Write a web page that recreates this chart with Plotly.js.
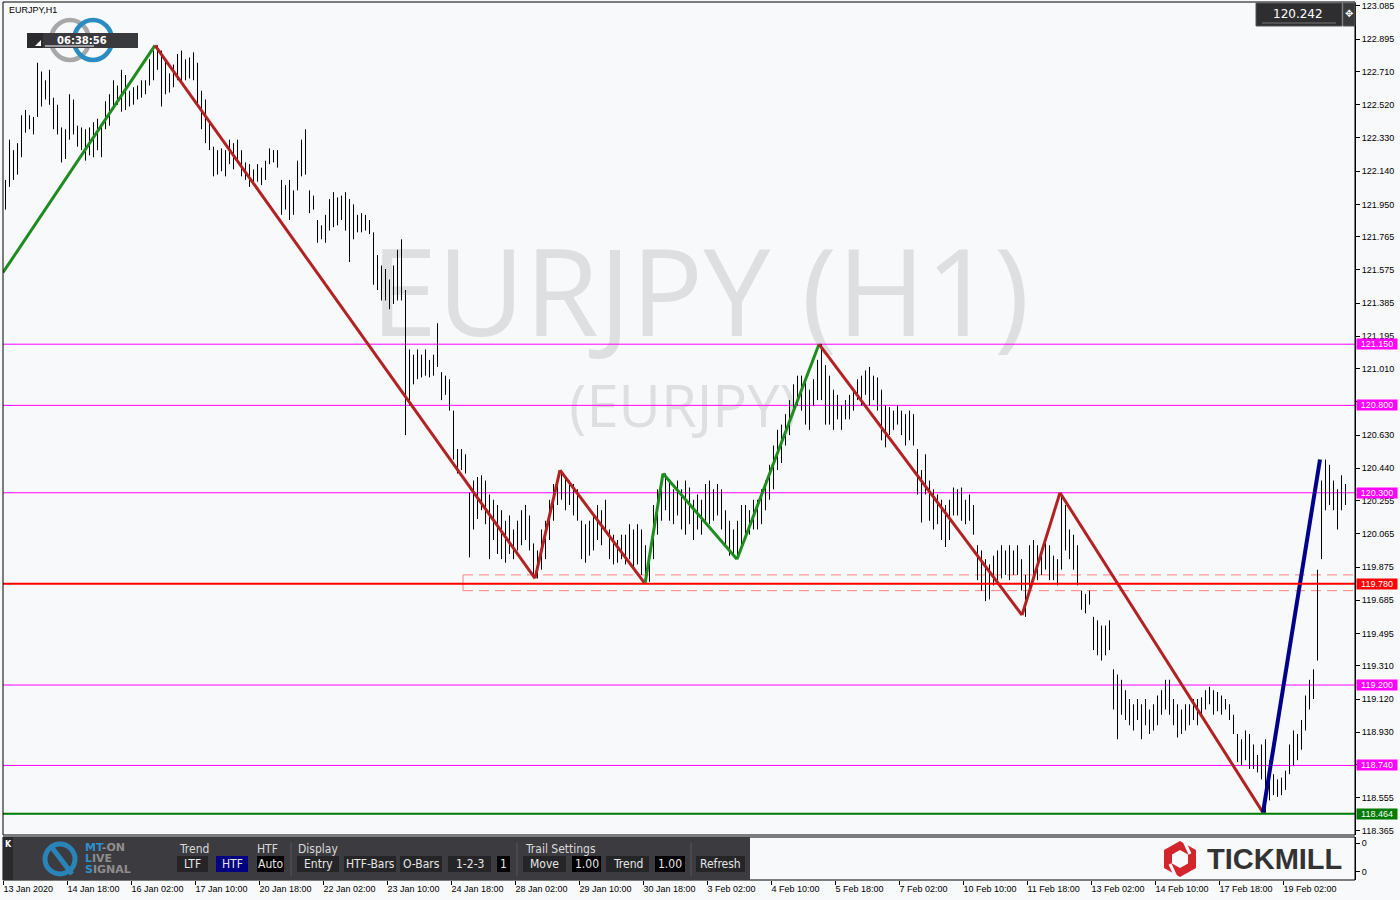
<!DOCTYPE html>
<html><head><meta charset="utf-8">
<script src="https://cdn.plot.ly/plotly-3.0.1.min.js"></script>
<style>html,body{margin:0;padding:0;background:#F8F9FB;}#chart{width:1400px;height:900px;}</style>
</head><body><div id="chart"></div>
<script>
// ---------------- DATA ----------------
const symbolTitle = 'EURJPY,H1';
const watermarkMain = 'EURJPY (H1)';
const watermarkSub = '(EURJPY)';
const timerText = '06:38:56';
const lastPrice = '120.242';
const timeLabels = ['13 Jan 2020','14 Jan 18:00','16 Jan 02:00','17 Jan 10:00','20 Jan 18:00','22 Jan 02:00','23 Jan 10:00','24 Jan 18:00','28 Jan 02:00','29 Jan 10:00','30 Jan 18:00','3 Feb 02:00','4 Feb 10:00','5 Feb 18:00','7 Feb 02:00','10 Feb 10:00','11 Feb 18:00','13 Feb 02:00','14 Feb 10:00','17 Feb 18:00','19 Feb 02:00'];
const hoursPerLabel = 32;
const hoursPerBar = 2;
const priceTicks = [123.085,122.895,122.710,122.520,122.330,122.140,121.950,121.765,121.575,121.385,121.195,121.010,120.820,120.630,120.440,120.255,120.065,119.875,119.685,119.495,119.310,119.120,118.930,118.745,118.555,118.365];
const hiddenTicks = [120.820, 118.745]; // covered by level labels in the reference

const barHigh = [
122.09,122.32,122.26,122.30,122.46,122.49,122.46,122.45,122.76,122.71,
122.66,122.72,122.56,122.52,122.39,122.38,122.58,122.55,122.40,122.39,
122.38,122.39,122.42,122.44,122.40,122.54,122.58,122.66,122.63,122.72,
122.69,122.60,122.62,122.63,122.66,122.66,122.78,122.83,122.86,122.83,
122.78,122.70,122.75,122.81,122.83,122.78,122.79,122.82,122.76,122.60,
122.55,122.43,122.28,122.26,122.27,122.26,122.32,122.30,122.32,122.26,
122.19,122.18,122.15,122.18,122.16,122.20,122.27,122.26,122.26,122.09,
122.06,122.09,122.03,122.20,122.32,122.38,122.03,122.00,121.86,121.83,
121.89,121.98,122.02,121.99,122.00,122.02,121.98,121.95,121.89,121.90,
121.89,121.86,121.79,121.66,121.60,121.58,121.52,121.60,121.69,121.75,
121.46,121.12,121.09,121.12,121.09,121.12,121.06,121.09,121.27,120.99,
120.97,120.95,120.77,120.55,120.55,120.52,120.30,120.37,120.39,120.40,
120.37,120.29,120.26,120.23,120.20,120.14,120.17,120.09,120.14,120.20,
120.23,120.17,120.01,119.97,120.09,120.14,120.26,120.35,120.37,120.43,
120.39,120.37,120.35,120.32,120.14,120.12,120.14,120.17,120.23,120.20,
120.26,120.09,120.06,120.03,120.06,120.06,120.12,120.09,120.12,120.09,
120.00,119.97,120.23,120.32,120.37,120.41,120.37,120.32,120.37,120.32,
120.37,120.33,120.26,120.29,120.26,120.35,120.37,120.32,120.35,120.32,
120.20,120.14,120.09,120.14,120.23,120.23,120.20,120.26,120.26,120.32,
120.37,120.46,120.57,120.66,120.69,120.75,120.83,120.92,120.97,120.97,
120.95,120.89,120.95,121.06,121.15,121.03,120.97,120.89,120.86,120.80,
120.83,120.86,120.89,120.95,120.97,121.00,121.02,120.97,120.96,120.89,
120.80,120.79,120.77,120.80,120.77,120.75,120.77,120.75,120.55,120.43,
120.52,120.37,120.32,120.29,120.26,120.23,120.26,120.33,120.32,120.33,
120.26,120.29,120.23,120.00,119.97,119.92,119.89,119.94,119.97,120.00,
119.97,120.00,119.97,120.00,119.92,119.83,120.00,120.03,120.00,119.97,
120.03,120.00,119.94,119.92,120.30,120.23,120.09,120.06,120.00,119.74,
119.72,119.74,119.59,119.57,119.54,119.54,119.57,119.29,119.26,119.23,
119.17,119.12,119.09,119.12,119.09,119.12,119.06,119.09,119.14,119.17,
119.23,119.23,119.12,119.09,119.06,119.09,119.09,119.12,119.12,119.13,
119.17,119.19,119.17,119.16,119.14,119.12,119.09,119.03,118.92,118.89,
118.94,118.92,118.86,118.80,118.86,118.89,118.77,118.69,118.66,118.67,
118.71,118.86,118.94,118.92,119.00,119.14,119.23,119.29,119.86,120.37,
120.49,120.46,120.37,120.32,120.40,120.35];

const barLow = [
121.92,122.05,122.09,122.12,122.22,122.36,122.38,122.35,122.45,122.51,
122.55,122.52,122.38,122.35,122.19,122.21,122.32,122.35,122.28,122.26,
122.20,122.23,122.22,122.26,122.22,122.38,122.40,122.49,122.52,122.48,
122.49,122.51,122.52,122.55,122.56,122.58,122.63,122.66,122.72,122.51,
122.58,122.59,122.62,122.66,122.64,122.66,122.67,122.66,122.51,122.38,
122.30,122.26,122.11,122.12,122.14,122.11,122.18,122.15,122.20,122.11,
122.09,122.05,122.06,122.08,122.06,122.09,122.18,122.19,122.16,121.89,
121.92,121.86,121.89,122.03,122.11,122.12,121.90,121.92,121.73,121.75,
121.73,121.80,121.82,121.83,121.86,121.80,121.62,121.75,121.79,121.79,
121.80,121.78,121.49,121.46,121.40,121.40,121.35,121.38,121.40,121.40,
120.63,120.80,120.92,120.95,120.96,120.97,120.96,120.97,121.02,120.83,
120.86,120.77,120.49,120.41,120.43,120.41,119.93,120.09,120.15,120.20,
120.12,119.92,120.03,119.95,119.92,119.90,119.95,119.92,119.97,120.00,
120.03,119.97,119.83,119.81,119.86,119.92,120.03,120.14,120.23,120.26,
120.20,120.23,120.17,120.14,119.92,119.90,119.94,119.97,120.03,120.00,
120.09,119.92,119.89,119.90,119.92,119.89,119.92,119.86,119.89,119.83,
119.78,119.79,119.92,120.06,120.14,120.20,120.14,120.12,120.17,120.09,
120.06,120.12,120.03,120.09,120.06,120.14,120.12,120.14,120.17,120.09,
120.00,119.94,119.94,119.92,120.00,120.03,120.06,120.09,120.09,120.12,
120.20,120.26,120.32,120.43,120.47,120.57,120.63,120.75,120.80,120.77,
120.69,120.66,120.80,120.83,120.83,120.69,120.69,120.66,120.72,120.66,
120.72,120.72,120.77,120.83,120.80,120.86,120.80,120.83,120.77,120.60,
120.56,120.63,120.66,120.69,120.63,120.57,120.60,120.57,120.29,120.13,
120.29,120.14,120.09,120.12,120.03,119.99,120.03,120.17,120.17,120.14,
120.12,120.14,120.06,119.80,119.74,119.68,119.69,119.77,119.80,119.81,
119.83,119.80,119.83,119.83,119.74,119.59,119.74,119.83,119.80,119.83,
119.86,119.80,119.80,119.77,119.86,119.97,119.92,119.86,119.77,119.63,
119.61,119.66,119.40,119.37,119.34,119.37,119.40,119.06,118.89,119.03,
119.00,118.97,118.94,119.00,118.89,118.97,118.92,118.94,118.97,119.03,
119.06,119.03,118.97,118.90,118.92,118.94,118.97,119.00,118.97,119.03,
119.06,119.09,119.03,119.05,119.03,119.06,119.00,118.92,118.76,118.74,
118.77,118.72,118.72,118.70,118.66,118.47,118.54,118.57,118.56,118.57,
118.60,118.69,118.74,118.77,118.83,118.94,119.06,119.12,119.34,119.92,
120.20,120.23,120.20,120.09,120.20,120.23];

// zigzag pivots (hour index, price) and direction of each leg
const zigzagHour  = [0, 76, 266, 278.5, 321, 330, 367, 408, 509.5, 528.5, 630, 658.5];
const zigzagPrice = [121.56, 122.86, 119.81, 120.43, 119.78, 120.41, 119.92, 121.15, 119.60, 120.30, 118.47, 120.49];
const zigzagLeg   = ['up','down','down','down','up','up','up','down','down','down','final'];

const levelPrices = [121.150, 120.800, 120.300, 119.200, 118.740];
const supportPrice = 119.780;
const lowPrice = 118.464;
const zoneTop = 119.83, zoneBottom = 119.74, zoneStartHour = 230;

// ---------------- GEOMETRY / STYLE ----------------
const L = 3, R = 1355, T = 3, B = 880;
const X = px => (px - L) / (R - L);
const Y = py => (B - py) / (B - T);
const xMax = 676;
const barOffset = 1.25;   // centres 1px bar lines on pixel centres
const bg = '#F8F9FB';
const axisFont = {family: 'Liberation Sans, Arial, sans-serif', size: 9, color: '#000'};
const narrow = 'Liberation Sans Narrow, DejaVu Sans Condensed, Arial Narrow, sans-serif';
const legColor = {up: '#1F8C1F', down: '#B22222', final: '#00008B'};

const traces = [];
traces.push({
  type: 'ohlc', xaxis: 'x', yaxis: 'y',
  x: barHigh.map((_, i) => i * hoursPerBar + barOffset),
  open: barLow, high: barHigh, low: barLow, close: barHigh,
  tickwidth: 0,
  increasing: {line: {color: '#000', width: 1}},
  decreasing: {line: {color: '#000', width: 1}},
  hoverinfo: 'skip', showlegend: false
});
for (let s = 0; s < zigzagLeg.length; s++) {
  traces.push({
    type: 'scatter', mode: 'lines', xaxis: 'x', yaxis: 'y',
    x: [zigzagHour[s], zigzagHour[s + 1]],
    y: [zigzagPrice[s], zigzagPrice[s + 1]],
    line: {color: legColor[zigzagLeg[s]], width: zigzagLeg[s] === 'final' ? 4 : 3},
    hoverinfo: 'skip', showlegend: false
  });
}
// empty trace so the indicator sub-window (x / y2) exists
traces.push({type: 'scatter', mode: 'markers', xaxis: 'x', yaxis: 'y2', x: [-10], y: [-10],
  marker: {size: 1, color: 'rgba(0,0,0,0)'}, hoverinfo: 'skip', showlegend: false});

const shapes = [];
const annotations = [];
function rectPx(x0, y0, x1, y1, fill, lineColor, layer) {
  shapes.push({type: 'rect', xref: 'paper', yref: 'paper', x0: X(x0), x1: X(x1), y0: Y(y1), y1: Y(y0),
    fillcolor: fill, line: {width: lineColor ? 1 : 0, color: lineColor || fill}, layer: layer || 'above'});
}
function linePx(x0, y0, x1, y1, color, width) {
  shapes.push({type: 'line', xref: 'paper', yref: 'paper', x0: X(x0), x1: X(x1), y0: Y(y0), y1: Y(y1),
    line: {color: color, width: width}});
}
function textPx(x, y, text, font, xanchor, extra) {
  annotations.push(Object.assign({xref: 'paper', yref: 'paper', x: X(x), y: Y(y), text: text, showarrow: false,
    xanchor: xanchor || 'center', yanchor: 'middle', font: font}, extra || {}));
}
function pathPx(pts) {
  return 'M ' + pts.map(p => X(p[0]) + ' ' + Y(p[1])).join(' L ') + ' Z';
}
function axisLabel(p, color) {
  annotations.push({xref: 'paper', x: 1, xanchor: 'left', xshift: 1, yref: 'y', y: p, yanchor: 'middle',
    text: p.toFixed(3), showarrow: false, bgcolor: color, width: 40, height: 10, borderpad: 0,
    font: {family: axisFont.family, size: 9, color: '#fff'}});
}

// watermark (below bars)
shapes.push({type: 'rect', xref: 'paper', yref: 'paper', x0: X(340), x1: X(1060), y0: Y(362), y1: Y(233),
  line: {width: 0}, fillcolor: 'rgba(0,0,0,0)', layer: 'below',
  label: {text: watermarkMain, textposition: 'middle center', font: {family: 'Open Sans, sans-serif', size: 120, color: '#DEDFE0'}}});
shapes.push({type: 'rect', xref: 'paper', yref: 'paper', x0: X(560), x1: X(806), y0: Y(440), y1: Y(376),
  line: {width: 0}, fillcolor: 'rgba(0,0,0,0)', layer: 'below',
  label: {text: watermarkSub, textposition: 'middle center', font: {family: 'Open Sans, sans-serif', size: 58, color: '#DEDFE0'}}});

// level lines
levelPrices.forEach(p => {
  shapes.push({type: 'line', xref: 'paper', x0: 0, x1: 1, yref: 'y', y0: p, y1: p, line: {color: '#FF00FF', width: 1}, layer: 'below'});
  axisLabel(p, '#FF00FF');
});
// zone
shapes.push({type: 'line', xref: 'x', yref: 'y', x0: zoneStartHour, x1: xMax, y0: zoneTop, y1: zoneTop, line: {color: '#FF8080', width: 1, dash: '10px,6px'}, layer: 'below'});
shapes.push({type: 'line', xref: 'x', yref: 'y', x0: zoneStartHour, x1: xMax, y0: zoneBottom, y1: zoneBottom, line: {color: '#FF8080', width: 1, dash: '10px,6px'}, layer: 'below'});
shapes.push({type: 'line', xref: 'x', yref: 'y', x0: zoneStartHour, x1: zoneStartHour, y0: zoneBottom, y1: zoneTop, line: {color: '#FF8080', width: 1}, layer: 'below'});
// support & low
shapes.push({type: 'line', xref: 'paper', x0: 0, x1: 1, yref: 'y', y0: supportPrice, y1: supportPrice, line: {color: '#FF0000', width: 2}});
axisLabel(supportPrice, '#FF0000');
shapes.push({type: 'line', xref: 'paper', x0: 0, x1: 1, yref: 'y', y0: lowPrice, y1: lowPrice, line: {color: '#007A00', width: 2}});
axisLabel(lowPrice, '#007A00');

// frames
rectPx(L, 2, R, 835, 'rgba(0,0,0,0)', '#000');
rectPx(L, 837, R, B, 'rgba(0,0,0,0)', '#000');

// top-left title and timer widget
textPx(7, 10, symbolTitle, {family: axisFont.family, size: 9, color: '#000'}, 'left');
shapes.push({type: 'circle', xref: 'paper', yref: 'paper', x0: X(51), x1: X(89), y0: Y(60), y1: Y(20), line: {color: '#A8A8A8', width: 4.5}});
shapes.push({type: 'circle', xref: 'paper', yref: 'paper', x0: X(74), x1: X(112), y0: Y(60), y1: Y(20), line: {color: '#2A8CC0', width: 4.5}});
rectPx(27, 33, 138, 48, '#3A393D');
rectPx(27, 33, 43, 48, '#2B2A2D');
shapes.push({type: 'path', xref: 'paper', yref: 'paper', path: pathPx([[35, 46], [41, 46], [41, 40]]), fillcolor: '#fff', line: {width: 0}});
linePx(45, 46, 94, 46, '#ffffff', 1);
textPx(82, 40, '<b>' + timerText + '</b>', {family: 'DejaVu Sans, sans-serif', size: 10, color: '#fff'});

// last price box
rectPx(1256, 3, 1342, 26, '#2E2E31', '#555');
linePx(1262, 23, 1336, 23, '#777', 1);
textPx(1298, 14, lastPrice, {family: 'DejaVu Sans, sans-serif', size: 12, color: '#fff'});
rectPx(1343, 3, 1355, 26, '#3A3A3D', '#555');
textPx(1349, 14, '✥', {family: 'DejaVu Sans, sans-serif', size: 10, color: '#fff'});

// bottom toolbar
rectPx(L, 837, 750, B, '#3C3B40');
rectPx(L, 837, 13, B, '#2A2A2D');
textPx(8, 844, '<b>K</b>', {family: 'DejaVu Sans, sans-serif', size: 8, color: '#fff'});
shapes.push({type: 'circle', xref: 'paper', yref: 'paper', x0: X(45), x1: X(75), y0: Y(874), y1: Y(844), line: {color: '#2A84B8', width: 5}});
linePx(50, 845, 72, 874, '#2A84B8', 5);
textPx(83, 847, '<b><span style="color:#2F8FCC">MT</span>-ON</b>', {family: 'DejaVu Sans, sans-serif', size: 11, color: '#8E8E8E'}, 'left');
textPx(83, 858, '<b><span style="color:#2F8FCC">L</span>IVE</b>', {family: 'DejaVu Sans, sans-serif', size: 11, color: '#8E8E8E'}, 'left');
textPx(83, 869, '<b><span style="color:#2F8FCC">S</span>IGNAL</b>', {family: 'DejaVu Sans, sans-serif', size: 11, color: '#8E8E8E'}, 'left');
const groupLabels = [['Trend', 177], ['HTF', 255], ['Display', 296], ['Trail Settings', 523]];
groupLabels.forEach(g => textPx(g[1], 849, g[0], {family: narrow, size: 12, color: '#DADADA'}, 'left'));
const buttons = [['LTF', 177, 208, '#252528'], ['HTF', 216, 248, '#000080'], ['Auto', 257, 284, '#000'],
  ['Entry', 297, 339, '#252528'], ['HTF-Bars', 344, 396, '#252528'], ['O-Bars', 400, 442, '#252528'],
  ['1-2-3', 448, 491, '#252528'], ['1', 497, 510, '#000'], ['Move', 523, 566, '#252528'], ['1.00', 572, 601, '#000'],
  ['Trend', 606, 649, '#252528'], ['1.00', 655, 685, '#000'], ['Refresh', 696, 745, '#252528']];
buttons.forEach(b => {
  rectPx(b[1], 856, b[2], 872, b[3]);
  textPx((b[1] + b[2]) / 2, 864, b[0], {family: narrow, size: 12, color: '#E6E6E6'});
});
[291, 517, 691].forEach(x => linePx(x, 843, x, 876, '#58575C', 1));

// Tickmill logo
const cx = 1180, cy = 859;
shapes.push({type: 'path', xref: 'paper', yref: 'paper', line: {width: 0}, fillcolor: '#D2262C',
  path: pathPx([[cx, cy - 18], [cx + 16, cy - 9], [cx + 16, cy + 9], [cx, cy + 18], [cx - 16, cy + 9], [cx - 16, cy - 9]])});
shapes.push({type: 'path', xref: 'paper', yref: 'paper', line: {width: 0}, fillcolor: bg,
  path: pathPx([[cx, cy - 9], [cx + 8, cy - 4.5], [cx + 8, cy + 4.5], [cx, cy + 9], [cx - 8, cy + 4.5], [cx - 8, cy - 4.5]])});
linePx(cx + 4, cy - 18, cx + 10, cy - 5, bg, 3);
linePx(cx - 10, cy + 5, cx - 4, cy + 18, bg, 3);
textPx(1205, 859, '<b>TICKMILL</b>', {family: 'Liberation Sans, Arial, sans-serif', size: 29, color: '#333333'}, 'left');

// ---------------- LAYOUT ----------------
const layout = {
  width: 1400, height: 900,
  margin: {l: L, r: 1400 - R, t: T, b: 900 - B, pad: 0},
  paper_bgcolor: bg, plot_bgcolor: bg,
  showlegend: false,
  xaxis: {
    type: 'linear', range: [0, xMax], anchor: 'y2', domain: [0, 1],
    rangeslider: {visible: false},
    tickvals: timeLabels.map((_, k) => k * hoursPerLabel), ticktext: timeLabels,
    ticks: 'outside', ticklen: 4, tickcolor: '#000', tickfont: axisFont,
    ticklabelposition: 'outside right',
    showgrid: false, zeroline: false, showline: false, fixedrange: true
  },
  yaxis: {
    domain: [Y(835), 1], anchor: 'x', side: 'right', range: [118.342, 123.102],
    tickvals: priceTicks, ticktext: priceTicks.map(v => hiddenTicks.includes(v) ? '' : v.toFixed(3)),
    ticks: 'outside', ticklen: 4, tickcolor: '#000', tickfont: axisFont,
    showgrid: false, zeroline: false, showline: true, linecolor: '#000', linewidth: 1, fixedrange: true
  },
  yaxis2: {
    domain: [0, Y(837)], anchor: 'x', side: 'right', range: [0, 1],
    tickvals: [0.86, 0.2], ticktext: ['0', '0'],
    ticks: 'outside', ticklen: 4, tickcolor: '#000', tickfont: axisFont,
    showgrid: false, zeroline: false, showline: true, linecolor: '#000', fixedrange: true
  },
  shapes: shapes,
  annotations: annotations
};
Plotly.newPlot('chart', traces, layout, {staticPlot: true, displayModeBar: false});
</script></body></html>
